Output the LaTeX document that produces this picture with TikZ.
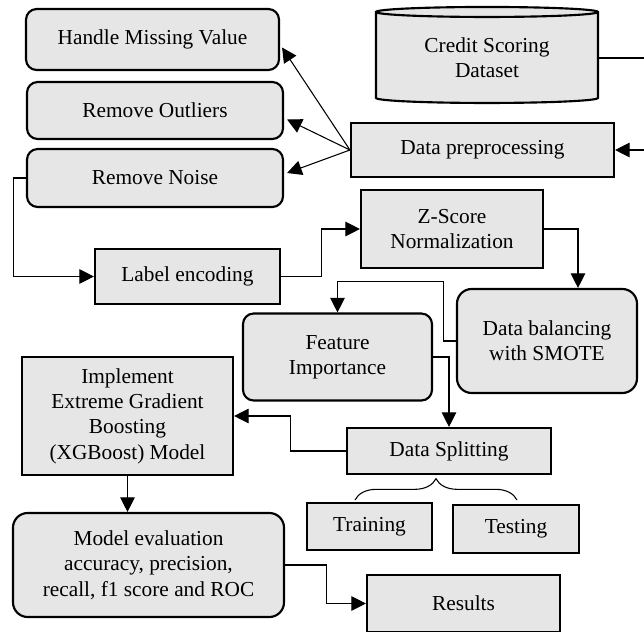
\documentclass[tikz,border=0pt]{standalone}
\usepackage{fontspec}
\setmainfont{Liberation Serif}
\newfontfamily\boxfont{Liberation Serif}
\usetikzlibrary{positioning, calc, arrows.meta, shapes.geometric, decorations.pathreplacing}
\definecolor{Box}{HTML}{E6E6E6}
\definecolor{Ink}{HTML}{000000}
\tikzset{
    basebox/.style={fill=Box, draw=Ink, line width=1.6pt, align=center, inner sep=0pt, font=\boxfont\fontsize{16}{19}\selectfont},
    roundbox/.style={basebox, rounded corners=8pt},
    plainbox/.style={basebox, rectangle},
    drum/.style={basebox, cylinder, shape border rotate=90, aspect=0.08, cylinder uses custom fill, cylinder body fill=Box, cylinder end fill=Box},
    link/.style={draw=Ink, line width=0.8pt},
    arrow/.style={link, -{Triangle[length=11pt, width=11pt]}},
}

\begin{document}
\begin{tikzpicture}[x=0.75pt, y=-0.75pt]
    \useasboundingbox (0,0) rectangle (644,632);

    % Sorgente e preprocessing
    \node[drum, minimum width=166.5pt, minimum height=72pt] (csd) at (487,58) {Credit Scoring\\Dataset};
    \node[plainbox, minimum width=197.25pt, minimum height=40.5pt] (dpp) at (482.5,150) {Data preprocessing};

    % Pulizia dei dati
    \node[roundbox, minimum width=189.75pt, minimum height=45.75pt] (hmv) at (152.5,39.5) {Handle Missing Value};
    \node[roundbox, minimum width=192pt, minimum height=42.75pt] (rmo) at (155,110.5) {Remove Outliers};
    \node[roundbox, minimum width=192pt, minimum height=43.5pt] (rmn) at (155,178) {Remove Noise};

    % Trasformazioni
    \node[plainbox, minimum width=138.75pt, minimum height=41.25pt] (lbe) at (187.5,276.5) {Label encoding};
    \node[plainbox, minimum width=136.5pt, minimum height=58.5pt] (zsn) at (452,229) {Z-Score\\Normalization};
    \node[roundbox, rounded corners=11pt, minimum width=135pt, minimum height=78pt] (dbs) at (547,341) {Data balancing\\with SMOTE};
    \node[roundbox, minimum width=141.75pt, minimum height=65.25pt] (fim) at (337.5,357) {Feature\\Importance};

    % Modello
    \node[plainbox, minimum width=158.25pt, minimum height=88.5pt] (xgb) at (127.5,416) {Implement\\Extreme Gradient\\Boosting\\(XGBoost) Model};
    \node[plainbox, minimum width=153pt, minimum height=34.5pt] (dsp) at (449,451) {Data Splitting};
    \node[plainbox, minimum width=93.75pt, minimum height=35.25pt] (trn) at (369.5,526.5) {Training};
    \node[plainbox, minimum width=94.5pt, minimum height=36pt] (tst) at (516,529) {Testing};
    \node[roundbox, rounded corners=11pt, minimum width=203.25pt, minimum height=78pt] (mev) at (148.5,565) {Model evaluation\\accuracy, precision,\\recall, f1 score and ROC};
    \node[plainbox, minimum width=144.75pt, minimum height=42.75pt] (res) at (463.5,603.5) {Results};

    % Collegamenti
    \draw[arrow] (csd.east) -- ++(45,0) |- (dpp.east);
    \draw[arrow] (dpp.west) -- ($(hmv.east)+(2,8)$);
    \draw[arrow] (dpp.west) -- ($(rmo.east)+(3,9)$);
    \draw[arrow] (dpp.west) -- ($(rmn.east)+(3,-5)$);
    \draw[arrow] (rmn.west) -- ++(-12,0) |- (lbe.west);
    \draw[arrow] (lbe.east) -- ++(40,0) |- (zsn.west);
    \draw[arrow] (zsn.east) -| ($(dbs.north)+(31,0)$);
    \draw[arrow] (dbs.west) -- ++(-12,0) |- ($(fim.north)+(0,-31)$) -- (fim.north);
    \draw[arrow] (fim.east) -| (dsp.north);
    \draw[arrow] (dsp.west) -- ++(-55,0) |- (xgb.east);
    \draw[arrow] (xgb.south) -- (xgb.south |- mev.north);
    \draw[arrow] (mev.east) -- ++(41,0) |- (res.west);

    % Parentesi di suddivisione
    \coordinate (brl) at (355,500);
    \coordinate (brr) at (517,500);
    \draw[link, decoration={brace, amplitude=16pt}, decorate] (brl) -- (brr);
\end{tikzpicture}
\end{document}
